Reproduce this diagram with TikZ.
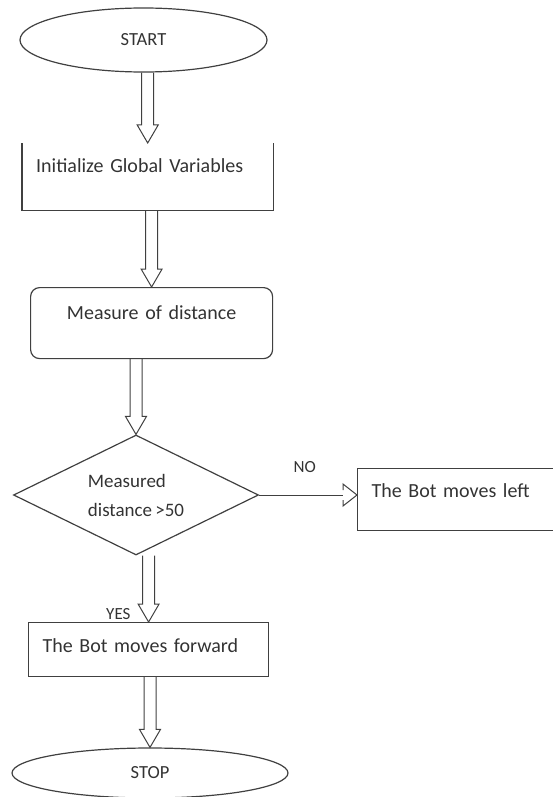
\documentclass[tikz,border=0pt]{standalone}
\usepackage{fontspec}
\setmainfont{Carlito}
\usetikzlibrary{shapes.geometric,calc}

\tikzset{
  flow/.style={draw=black!75, line width=1.2pt},
  term/.style={flow, ellipse, inner sep=0pt, text=black!80, font=\fontsize{18.5}{22}\selectfont},
  box/.style={anchor=north west, inner ysep=0pt, inner xsep=14pt, align=left, text=black!80, font=\fontsize{20}{24}\selectfont},
  decide/.style={flow, diamond, aspect=2.04, inner sep=0pt, align=left, text=black!80, font=\fontsize{19}{29}\selectfont},
  lbl/.style={text=black!80, font=\fontsize{17}{20}\selectfont}
}

% hollow block arrow from the bottom of #1 to the top of #2
\newcommand{\blockarrow}[2]{%
  \draw[flow, line width=1pt, line join=miter] let \p1=(#1.south), \p2=(#2.north) in
    (\x2-6pt,\y1) -- (\x2-6pt,\y2+18pt) -- (\x2-10.5pt,\y2+18pt) -- (\x2,\y2)
    -- (\x2+10.5pt,\y2+18pt) -- (\x2+6pt,\y2+18pt) -- (\x2+6pt,\y1);}

\begin{document}
\begin{tikzpicture}[x=1pt,y=-1pt]
  \useasboundingbox (0,0) rectangle (552,797);

  \node[term, minimum width=247pt, minimum height=64pt] (start) at (143.5,40) {START};
  \node[box, text width=223pt, text height=29pt, text depth=38pt] (init) at (22,143) {Initialize Global Variables};
  \node[box, flow, rounded corners=9pt, align=center, text width=214pt, text height=32pt, text depth=39pt] (measure) at (30,287) {Measure of distance};
  \node[decide, minimum width=245pt, minimum height=120pt] (check) at (136,495) {Measured\\distance\,>50};
  \node[box, flow, text width=185pt, text height=29pt, text depth=33pt] (left) at (357,468) {The Bot moves left};
  \node[box, flow, text width=212pt, text height=30pt, text depth=24pt] (fwd) at (28,622) {The Bot moves forward};
  \node[term, minimum width=276pt, minimum height=50pt] (stop) at (150,773) {STOP};

  % the first box shows no top edge
  \draw[flow] (init.north west) -- (init.south west) -- (init.south east) -- (init.north east);

  \blockarrow{start}{init}
  \blockarrow{init}{measure}
  \blockarrow{measure}{check}
  \blockarrow{check}{fwd}
  \blockarrow{fwd}{stop}

  % NO branch
  \coordinate (tip) at (check.east -| left.west);
  \draw[flow, line width=1pt] (check.east) -- ($(tip)+(-14,0)$);
  \draw[flow, line width=1pt] ($(tip)+(-14,-5)$) -- ($(tip)+(-14,-11)$) -- (tip)
    -- ($(tip)+(-14,11)$) -- ($(tip)+(-14,5)$);

  \node[lbl, anchor=base west] (no) at (290,472) {NO};
  \node[lbl, anchor=base east] (yes) at (134,619) {YES};
\end{tikzpicture}
\end{document}
